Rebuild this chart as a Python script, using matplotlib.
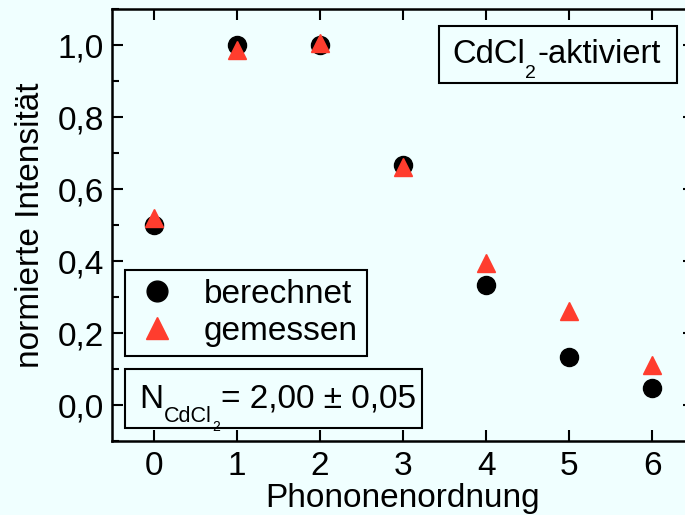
import numpy as np
import matplotlib
matplotlib.use("Agg")
import matplotlib.pyplot as plt
from matplotlib.patches import Rectangle
from matplotlib.ticker import FuncFormatter, MultipleLocator

plt.rcParams['font.family'] = ['Liberation Sans', 'DejaVu Sans']

# data
ordnung = [0, 1, 2, 3, 4, 5, 6]
berechnet = [0.50, 1.00, 1.00, 0.667, 0.333, 0.133, 0.047]
gemessen = [0.52, 0.985, 1.005, 0.66, 0.395, 0.26, 0.11]

bg = '#f0ffff'
red = '#ff3d2e'
fs = 24

fig = plt.figure(figsize=(6.85, 5.15), dpi=100, facecolor=bg)
ax = fig.add_axes([112 / 685, 74 / 515, 582 / 685, 432 / 515], facecolor=bg)


def px(x, y):
    # figure pixel (from top-left) -> axes fraction
    return (x - 112) / 582, (441 - y) / 432


def chain(parts, x, y):
    # draw pieces of text one after another: (text, size, dy in points)
    prev = ax.text(*px(x, y), parts[0][0], transform=ax.transAxes,
                   fontsize=parts[0][1], ha='left', va='baseline')
    for s, size, dy in parts[1:]:
        prev = ax.annotate(s, xy=(1, 0), xycoords=prev, xytext=(0.5, dy),
                           textcoords='offset points', fontsize=size,
                           ha='left', va='bottom')
    return prev


ax.plot(ordnung, berechnet, 'o', color='black', ms=13, label='berechnet',
        clip_on=False)
ax.plot(ordnung, gemessen, '^', color=red, ms=13.5, label='gemessen',
        clip_on=False)

ax.set_xlim(-0.5, 6.5)
ax.set_ylim(-0.1, 1.1)
ax.xaxis.set_major_locator(MultipleLocator(1))
ax.yaxis.set_major_locator(MultipleLocator(0.2))
ax.yaxis.set_minor_locator(MultipleLocator(0.1))
ax.yaxis.set_major_formatter(FuncFormatter(
    lambda v, p: f"{v:.1f}".replace('.', ',').replace('-0,0', '0,0')))

ax.tick_params(which='both', direction='in', top=True, right=True,
               labelsize=fs, width=1.5)
ax.tick_params(axis='x', pad=7)
ax.tick_params(axis='y', pad=6)
ax.tick_params(which='major', length=8)
ax.tick_params(which='minor', length=5)
for s in ax.spines.values():
    s.set_linewidth(1.8)

ax.set_xlabel('Phononenordnung', fontsize=fs, labelpad=1)
ax.set_ylabel('normierte Intensität', fontsize=fs, labelpad=8)

leg = ax.legend(loc='upper left', bbox_to_anchor=px(125, 270),
                bbox_transform=ax.transAxes, borderaxespad=0, fontsize=fs,
                fancybox=False, edgecolor='black', framealpha=1,
                facecolor=bg, handletextpad=0.75, borderpad=0.27,
                labelspacing=0.18, handlelength=1.35, markerscale=1.15)
leg.get_frame().set_linewidth(1.5)

# N box
x0, y0 = px(125, 428)
x1, y1 = px(422, 369)
ax.add_patch(Rectangle((x0, y0), x1 - x0, y1 - y0, transform=ax.transAxes,
                       fc=bg, ec='black', lw=1.5, zorder=5))
chain([('N', fs, 0), ('CdCl', 15.5, -9), ('2', 10, -5),
       ('= 2,00 ± 0,05', fs, 14)], 139, 408)

# CdCl2 box
x0, y0 = px(439, 83)
x1, y1 = px(677, 26)
ax.add_patch(Rectangle((x0, y0), x1 - x0, y1 - y0, transform=ax.transAxes,
                       fc=bg, ec='black', lw=1.5, zorder=5))
chain([('CdCl', 23.5, 0), ('2', 14, -9), ('-aktiviert', 23.5, 9)], 452, 63)

for txt in ax.texts:
    txt.set_zorder(6)

fig.savefig('out.png', dpi=100, facecolor=bg)
